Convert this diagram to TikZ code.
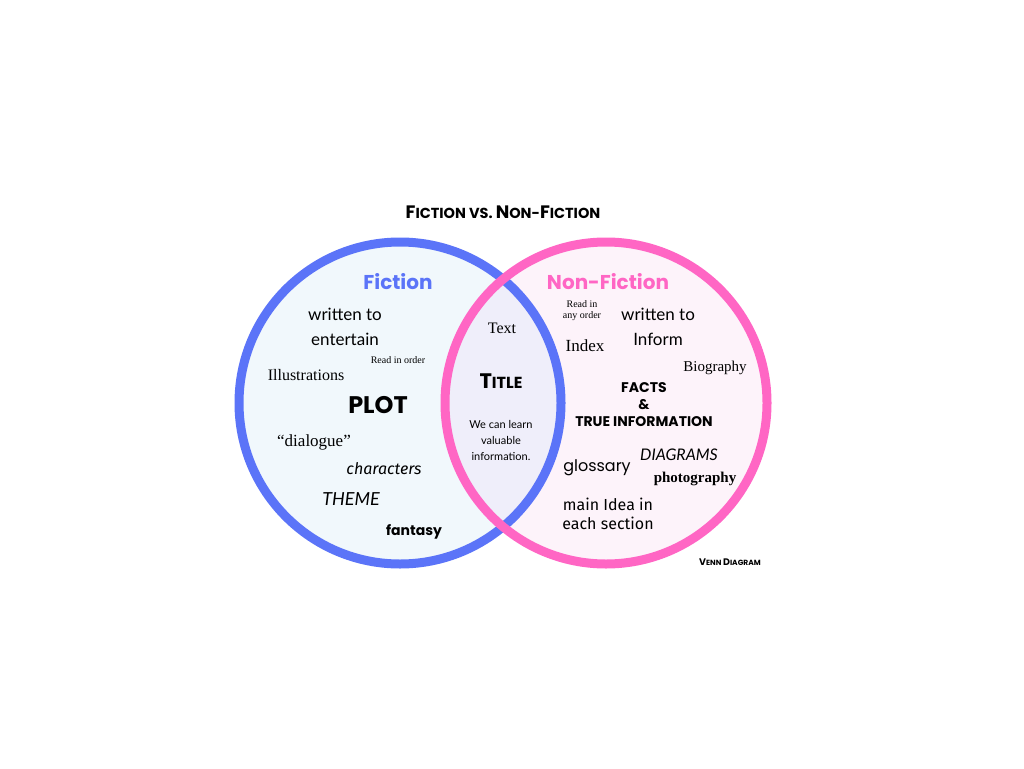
\documentclass[tikz,border=0pt]{standalone}
\usepackage{fontspec}
\setmainfont{Open Sans}
\newfontfamily\pop{Poppins}
\newfontfamily\ser{Liberation Serif}
\newfontfamily\lat{Lato}
\newfontfamily\fira{Fira Sans}
\definecolor{cblue}{HTML}{5B74F8}
\definecolor{cpink}{HTML}{FF66C4}
\definecolor{fblue}{HTML}{F1F8FC}
\definecolor{fpink}{HTML}{FDF3FA}
\definecolor{fmid}{HTML}{EFEEFA}
\tikzset{t/.style={inner sep=0pt,text=black,align=center}}
\newcommand\bigc[1]{{\fontsize{18}{20}\selectfont #1}}
\begin{document}
\begin{tikzpicture}[x=1pt,y=-1pt]
\useasboundingbox (0,0) rectangle (1024,768);
\fill[fblue] (400,403) circle (161);
\fill[fpink] (606,403) circle (161);
\begin{scope}
\clip (400,403) circle (161);
\fill[fmid] (606,403) circle (161);
\end{scope}
\draw[cblue,line width=9] (400,403) circle (161);
\draw[cpink,line width=9] (606,403) circle (161);
\node[t,font=\pop\bfseries\fontsize{14.5}{20}\selectfont] (title) at (503,212) {\bigc{F}ICTION VS. \bigc{N}ON-\bigc{F}ICTION};
\node[t,text=cblue,font=\pop\bfseries\fontsize{20}{24}\selectfont] (fic) at (398,282) {Fiction};
\node[t,text=cpink,font=\pop\bfseries\fontsize{20}{24}\selectfont] (nf) at (608,282) {Non-Fiction};
\node[t,font=\lat\fontsize{17}{25}\selectfont] (w1) at (345,327) {written to\\entertain};
\node[t,font=\ser\fontsize{10}{12}\selectfont] (rio) at (398,360) {Read in order};
\node[t,font=\ser\fontsize{16}{18}\selectfont] (ill) at (306,375) {Illustrations};
\node[t,font=\pop\bfseries\fontsize{24}{28}\selectfont] (plot) at (378,405) {PLOT};
\node[t,font=\ser\fontsize{17}{20}\selectfont] (dia) at (314,442) {“dialogue”};
\node[t,font=\fira\itshape\fontsize{16}{20}\selectfont] (cha) at (384,469) {characters};
\node[t,font=\lat\itshape\fontsize{18}{20}\selectfont] (the) at (351,499) {THEME};
\node[t,font=\pop\bfseries\fontsize{14}{18}\selectfont] (fan) at (414,532) {fantasy};
\node[t,font=\ser\fontsize{16}{18}\selectfont] (text) at (502,328) {Text};
\node[t,font=\pop\bfseries\fontsize{16}{24}\selectfont] (tit) at (501,381) {{\fontsize{21}{24}\selectfont T}ITLE};
\node[t,font=\lat\fontsize{11}{16}\selectfont] (learn) at (501,440) {We can learn\\valuable\\information.};
\node[t,font=\ser\fontsize{10}{11}\selectfont] (rao) at (582,311) {Read in\\any order};
\node[t,font=\lat\fontsize{17}{25}\selectfont] (w2) at (658,327) {written to\\Inform};
\node[t,font=\ser\fontsize{17}{20}\selectfont] (idx) at (585,346) {Index};
\node[t,font=\ser\fontsize{15}{18}\selectfont] (bio) at (715,368) {Biography};
\node[t,font=\pop\bfseries\fontsize{14}{17}\selectfont] (facts) at (644,405) {FACTS\\\&\\TRUE INFORMATION};
\node[t,font=\lat\itshape\fontsize{16}{18}\selectfont] (dg) at (679,455) {DIAGRAMS};
\node[t,font=\pop\fontsize{16}{18}\selectfont] (glo) at (597,468) {glossary};
\node[t,font=\ser\bfseries\fontsize{15}{18}\selectfont] (pho) at (695,479) {photography};
\node[t,font=\fira\fontsize{16}{19}\selectfont] (main) at (608,514) {main Idea in\\each section};
\node[t,font=\pop\bfseries\fontsize{7.5}{10}\selectfont] (venn) at (730,562) {{\fontsize{9.5}{10}\selectfont V}ENN {\fontsize{9.5}{10}\selectfont D}IAGRAM};
\end{tikzpicture}
\end{document}
